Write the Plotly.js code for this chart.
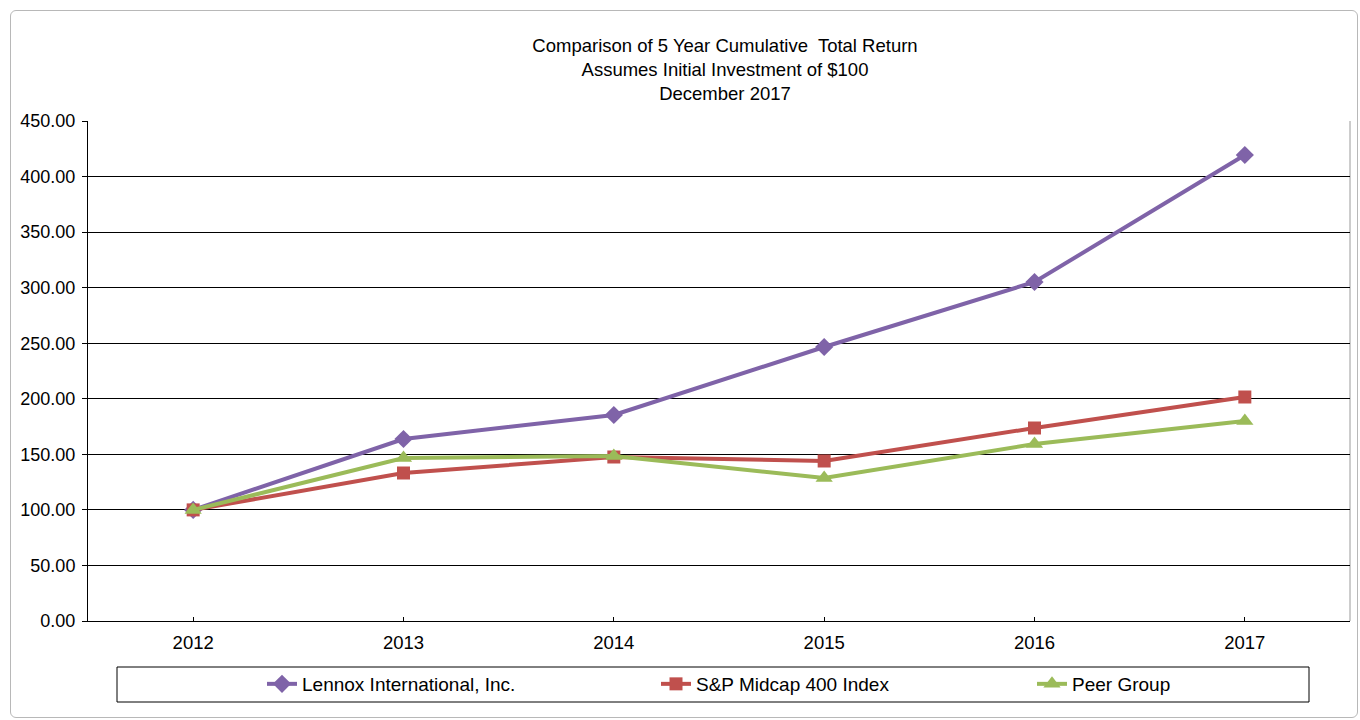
<!DOCTYPE html>
<html>
<head>
<meta charset="utf-8">
<script src="https://cdn.plot.ly/plotly-3.0.1.min.js"></script>
<style>
  html, body { margin: 0; padding: 0; background: #ffffff; }
  #frame { position: absolute; left: 10px; top: 10px; width: 1346px; height: 706px;
           border: 1px solid #b8b8b8; border-radius: 6px; pointer-events: none; }
  #chart { position: absolute; left: 0; top: 0; width: 1360px; height: 720px; }
</style>
</head>
<body>
<div id="chart"></div>
<div id="frame"></div>
<script>
const years = ["2012", "2013", "2014", "2015", "2016", "2017"];
const lennox = [100.00, 163.8, 185.4, 246.6, 305.1, 419.4];
const spMidcap = [100.00, 133.2, 147.6, 144.0, 173.7, 201.6];
const peerGroup = [100.00, 146.7, 148.5, 128.7, 159.3, 180.0];
const yTicks = [0, 50, 100, 150, 200, 250, 300, 350, 400, 450];

const W = 1262, H = 500, L = 88, T = 121;
function px(x) { return (x - L) / W; }
function py(y) { return (T + H - y) / H; }

const FONT = "Liberation Sans, Arial, sans-serif";

const traces = [
  { x: years, y: lennox, name: "Lennox International, Inc.", type: "scatter", mode: "lines+markers",
    legend: "legend",
    line: { color: "#7F63A8", width: 4 }, marker: { symbol: "diamond", size: 14, color: "#7F63A8" } },
  { x: years, y: spMidcap, name: "S&P Midcap 400 Index", type: "scatter", mode: "lines+markers",
    legend: "legend2",
    line: { color: "#C0504D", width: 4 }, marker: { symbol: "square", size: 13, color: "#C0504D" } },
  { x: years, y: peerGroup, name: "Peer Group", type: "scatter", mode: "lines+markers",
    legend: "legend3",
    line: { color: "#9BBB59", width: 4 }, marker: { symbol: "triangle-up", size: 15, color: "#9BBB59" } }
];

function legendAt(xPix) {
  return {
    orientation: "h", x: px(xPix), xanchor: "left", y: py(684), yanchor: "middle",
    bgcolor: "rgba(0,0,0,0)", borderwidth: 0,
    font: { family: FONT, size: 19, color: "#000000" }
  };
}

const layout = {
  width: 1360, height: 720,
  margin: { l: L, r: 1360 - L - W, t: T, b: 720 - T - H, pad: 0, autoexpand: false },
  paper_bgcolor: "#ffffff", plot_bgcolor: "#ffffff",
  font: { family: FONT, size: 18, color: "#000000" },
  title: {
    text: "Comparison of 5 Year Cumulative  Total Return<br>Assumes Initial Investment of $100<br>December 2017",
    font: { family: FONT, size: 18.5, color: "#000000" },
    x: px(725), xref: "paper", xanchor: "center",
    y: 1 - 52 / 720, yref: "container", yanchor: "middle"
  },
  xaxis: {
    type: "category", range: [-0.5, 5.5], showgrid: false, zeroline: false,
    showline: true, linecolor: "#000000", linewidth: 1,
    ticks: "inside", ticklen: 4, tickcolor: "#000000",
    ticklabelstandoff: 5,
    tickfont: { family: FONT, size: 18.5, color: "#000000" }
  },
  yaxis: {
    range: [0, 450], tickvals: yTicks, tickformat: ".2f",
    showgrid: true, gridcolor: "#000000", gridwidth: 1, zeroline: false,
    showline: true, linecolor: "#000000", linewidth: 1,
    ticks: "outside", ticklen: 5, tickcolor: "#000000",
    ticklabelstandoff: 3,
    tickfont: { family: FONT, size: 18, color: "#000000" }
  },
  showlegend: true,
  legend: legendAt(262),
  legend2: legendAt(656),
  legend3: legendAt(1032),
  shapes: [
    { type: "line", xref: "paper", yref: "paper", x0: 1, x1: 1, y0: 0, y1: 1,
      line: { color: "#9a9a9a", width: 1 }, layer: "below" },
    { type: "rect", xref: "paper", yref: "paper", x0: px(117), x1: px(1309), y0: py(667), y1: py(702),
      line: { color: "#000000", width: 1 }, fillcolor: "rgba(0,0,0,0)" }
  ]
};

Plotly.newPlot("chart", traces, layout, { displayModeBar: false, staticPlot: true });
</script>
</body>
</html>
